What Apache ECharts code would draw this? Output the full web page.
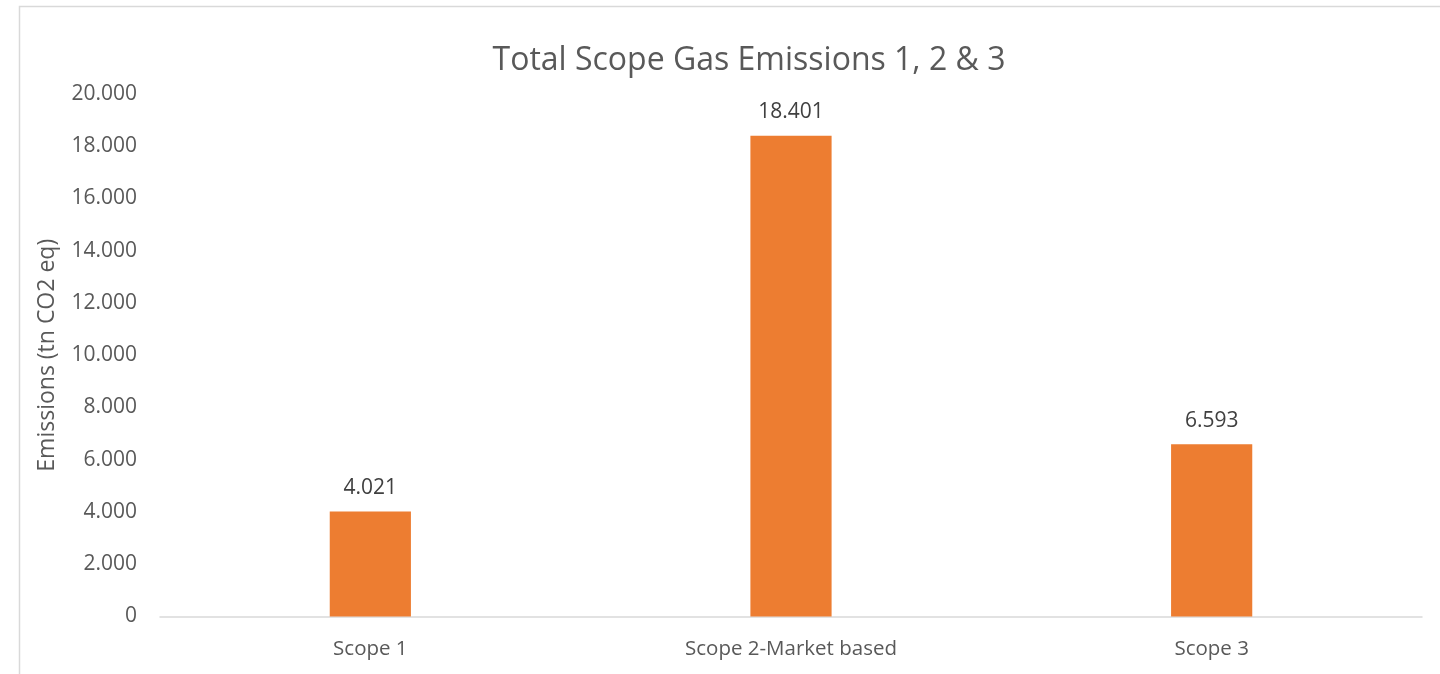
<!DOCTYPE html>
<html><head><meta charset="utf-8">
<script src="https://cdn.jsdelivr.net/npm/echarts@6/dist/echarts.min.js"></script>
<style>html,body{margin:0;padding:0;background:#fff}#c{width:1440px;height:674px}</style>
</head><body><div id="c"></div>
<script>
const categories = ['Scope 1', 'Scope 2-Market based', 'Scope 3'];
const emissions = [4021, 18401, 6593];
const titleText = 'Total Scope Gas Emissions 1, 2 & 3';
const yAxisName = 'Emissions (tn CO2 eq)';

function fmt(v){
  const s = String(Math.round(v));
  return s.replace(/\B(?=(\d{3})+(?!\d))/g, '.');
}
const FONT = 'Open Sans';
const TXT = '#595959';
const chart = echarts.init(document.getElementById('c'));
chart.setOption({
  animation: false,
  title: { text: titleText, left: 744, top: 40, textAlign: 'center',
    textStyle: { fontFamily: FONT, fontSize: 32, fontWeight: 'normal', color: TXT } },
  graphic: [{ type: 'rect', shape: { x: 19.5, y: 6.5, width: 1600, height: 900 },
    style: { fill: null, stroke: '#d9d9d9', lineWidth: 1.5 }, silent: true }],
  grid: { left: 160, right: 18, top: 94, bottom: 57.5 },
  xAxis: { type: 'category', data: categories,
    axisLine: { lineStyle: { color: '#d9d9d9', width: 1.5 } },
    axisTick: { show: false },
    axisLabel: { fontFamily: FONT, fontSize: 20.5, color: TXT, margin: 22 } },
  yAxis: { type: 'value', min: 0, max: 20000, interval: 2000,
    name: yAxisName, nameLocation: 'middle', nameGap: 101,
    nameTextStyle: { fontFamily: FONT, fontSize: 23, color: TXT },
    axisLine: { show: false }, axisTick: { show: false },
    splitLine: { show: false },
    axisLabel: { fontFamily: FONT, fontSize: 21, color: TXT, margin: 23, formatter: fmt } },
  series: [{ type: 'bar', data: emissions, barWidth: '19.3%',
    itemStyle: { color: '#ED7D31' },
    label: { show: true, position: 'top', distance: 13, formatter: p => fmt(p.value),
      fontFamily: FONT, fontSize: 21, color: '#404040' } }]
});
</script></body></html>
